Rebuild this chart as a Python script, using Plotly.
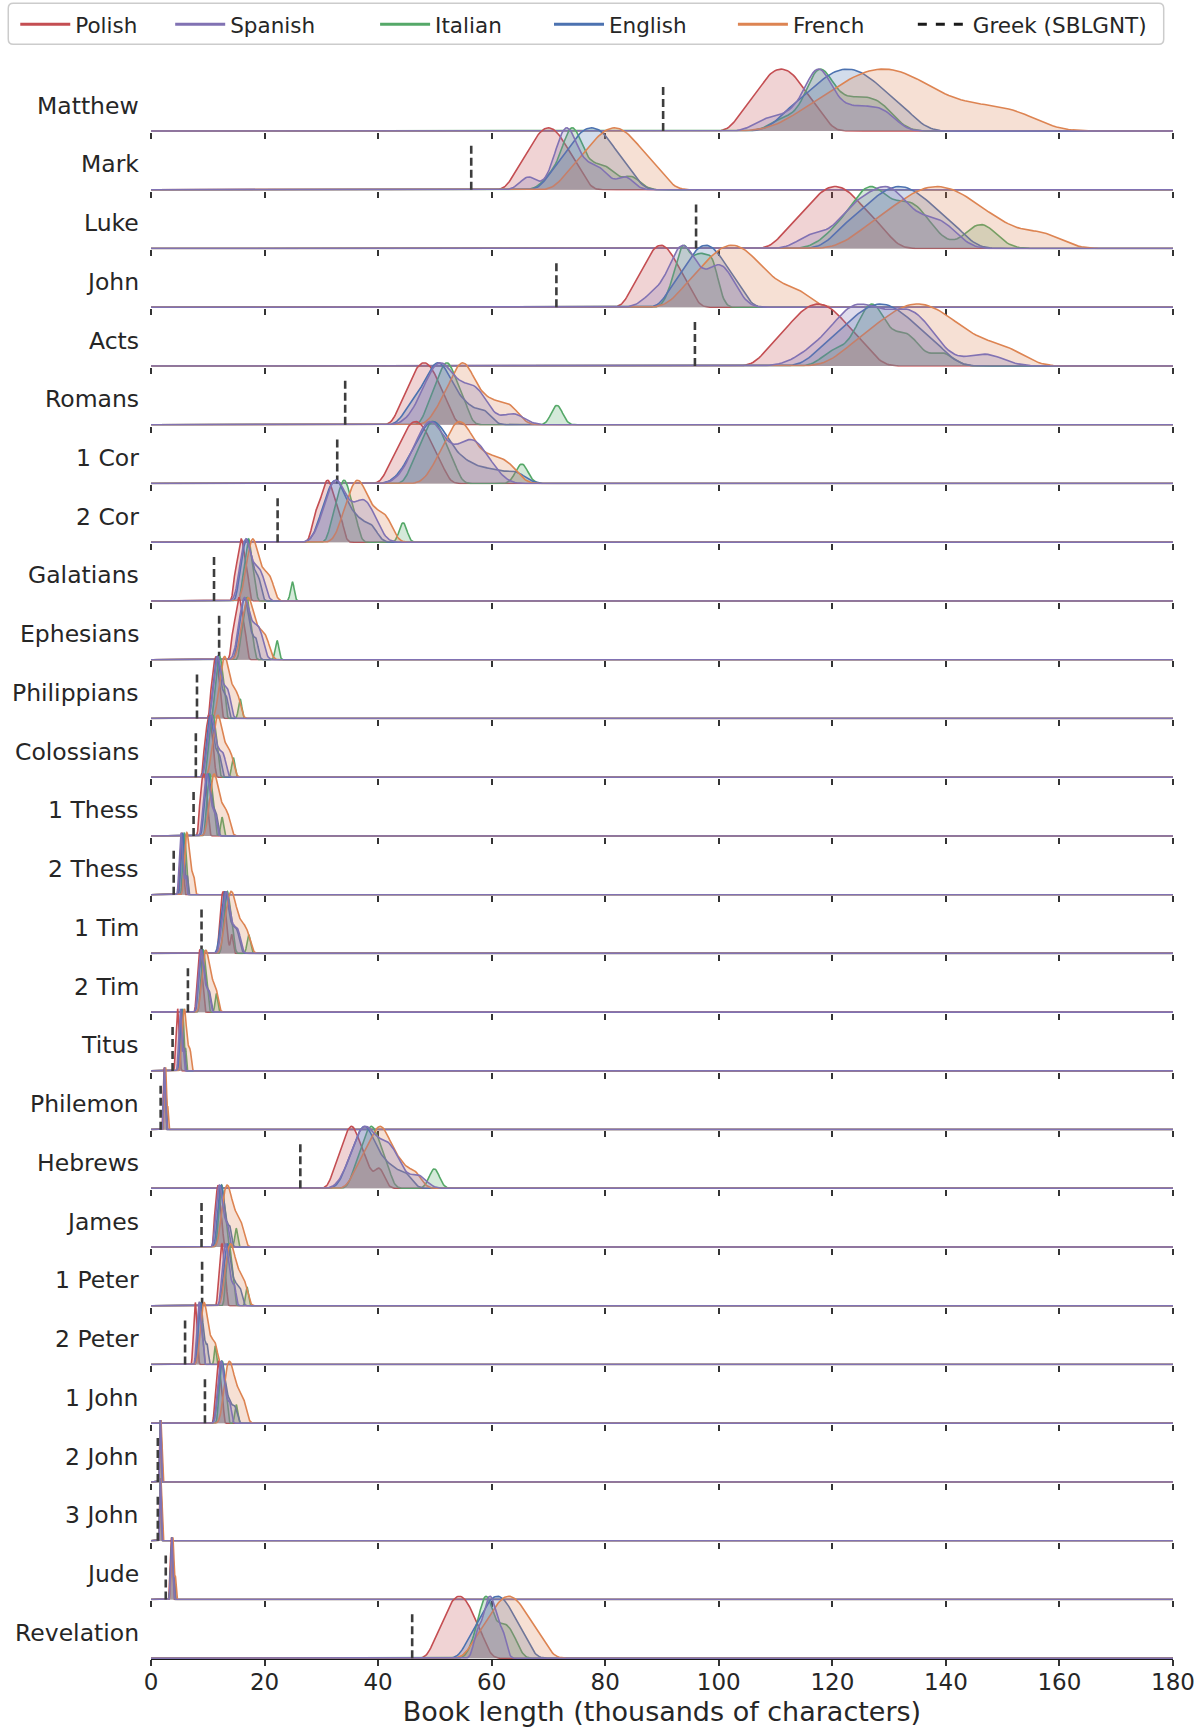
import numpy as np
import plotly.graph_objects as go

# ---------------- data ----------------
BOOKS = ["Matthew", "Mark", "Luke", "John", "Acts", "Romans", "1 Cor", "2 Cor",
         "Galatians", "Ephesians", "Philippians", "Colossians", "1 Thess", "2 Thess",
         "1 Tim", "2 Tim", "Titus", "Philemon", "Hebrews", "James", "1 Peter",
         "2 Peter", "1 John", "2 John", "3 John", "Jude", "Revelation"]

# Greek (SBLGNT) book length, thousands of characters
GREEK = [90.2, 56.4, 96.0, 71.4, 95.8, 34.2, 32.8, 22.3, 11.1, 12.0, 8.1, 7.9, 7.5,
         4.0, 8.9, 6.5, 3.8, 1.7, 26.3, 8.9, 9.0, 6.0, 9.5, 1.2, 1.2, 2.6, 46.0]

LANGUAGES = ["Polish", "Spanish", "Italian", "English", "French"]
TICKS = [0, 20, 40, 60, 80, 100, 120, 140, 160, 180]

# lengths of individual translations (thousands of characters), one list per book
POLISH = [
    [104.5, 106.6, 108, 109.1, 110, 111, 112, 112.9, 114, 115.4, 117.5],
    [64.7, 66.4, 67.5, 68.45, 69.2, 70, 70.8, 71.55, 72.5, 73.6, 75.3],
    [112.5, 115.1, 116.8, 118.2, 119.3, 120.5, 121.7, 122.8, 124.2, 125.9, 128.5],
    [85, 86.6, 87.55, 88.4, 89.1, 89.8, 90.5, 91.2, 92.05, 93, 94.6],
    [109.5, 112.1, 113.75, 115.15, 116.3, 117.5, 118.7, 119.85, 121.25, 122.9, 125.5],
    [44.1, 45.4, 46.2, 46.9, 47.5, 48.1, 48.7, 49.3, 50, 50.8, 52.1],
    [42.3, 43.7, 44.6, 45.3, 46, 46.6, 47.2, 47.9, 48.6, 49.5, 50.9],
    [28.9, 29.9, 30.6, 31.1, 31.6, 32.3, 33.3],
    [14.8, 15.3, 15.65, 15.9, 16.15, 16.5, 17],
    [14.4, 14.9, 15.25, 15.5, 15.75, 16.1, 16.6],
    [10.6, 10.95, 11.2, 11.4, 11.6, 11.85, 12.2],
    [9.4, 9.75, 10, 10.2, 10.4, 10.65, 11],
    [8.6, 8.9, 9.1, 9.3, 9.5, 9.7, 10],
    [5, 5.2, 5.32, 5.4, 5.48, 5.6, 5.8],
    [12.1, 12.35, 12.55, 12.7, 12.85, 13.05, 13.4, 14.2],
    [8.05, 8.3, 8.47, 8.6, 8.73, 8.9, 9.2],
    [4.3, 4.5, 4.62, 4.7, 4.78, 4.9, 5.1],
    [2.1, 2.2, 2.27, 2.32, 2.37, 2.44, 2.55],
    [32.7, 33.9, 34.7, 35.3, 35.9, 36.7, 37.9, 40.2],
    [11.2, 11.45, 11.65, 11.8, 11.95, 12.15, 12.5],
    [11.9, 12.15, 12.35, 12.5, 12.65, 12.85, 13.2],
    [7.4, 7.58, 7.7, 7.8, 7.9, 8.02, 8.25],
    [11.3, 11.55, 11.75, 11.9, 12.05, 12.25, 12.6],
    [1.48, 1.55, 1.6, 1.64, 1.68, 1.73, 1.8],
    [1.48, 1.55, 1.6, 1.64, 1.68, 1.73, 1.8],
    [3.3, 3.42, 3.52, 3.58, 3.64, 3.72, 3.85],
    [50.3, 51.6, 52.4, 53.1, 53.7, 54.3, 54.9, 55.5, 56.2, 57, 58.3],
]

SPANISH = [
    [108, 111.5, 114, 116, 116.8, 117.3, 117.6, 118, 118.6, 120, 122, 124, 126, 128, 130],
    [66.5, 71, 72.2, 72.8, 73.3, 73.8, 74.4, 76, 77.8, 79.6, 83.5],
    [116.5, 121.5, 123.5, 125, 126.5, 128, 129.3, 130.3, 131.3, 132.8, 135.5, 138, 140.5],
    [88.5, 91.5, 92.5, 93.2, 93.8, 94.4, 95.2, 97, 99.2, 100, 100.8, 102.5],
    [116.5, 120.5, 122.3, 123.5, 124.5, 125.7, 127.5, 129.5, 131.5, 133, 134.2, 135.5, 137.5, 146.8],
    [47.3, 48.8, 49.8, 50.5, 51, 51.5, 52.3, 53.6, 55, 56.5, 57.4, 58.4, 63.8],
    [45.6, 47.2, 48.2, 48.8, 49.3, 49.8, 50.6, 52, 53.6, 55.2, 56.2, 57, 58, 60],
    [30.3, 31.4, 32.1, 32.6, 33.1, 33.8, 35, 36.5, 37.3, 38.1, 39.5],
    [15.6, 16.1, 16.45, 16.7, 16.95, 17.3, 17.9, 18.5, 19.1, 19.8],
    [15.4, 15.9, 16.25, 16.5, 16.75, 17.1, 17.7, 18.3, 18.9, 19.5],
    [11, 11.35, 11.6, 11.8, 12, 12.3, 12.8, 13.3, 13.8],
    [9.9, 10.25, 10.5, 10.7, 10.9, 11.2, 11.7, 12.3, 12.9],
    [9.2, 9.5, 9.7, 9.9, 10.1, 10.35, 10.8, 11.3],
    [4.9, 5.1, 5.22, 5.3, 5.38, 5.5, 5.75, 6.1],
    [12.5, 12.85, 13.1, 13.3, 13.5, 13.8, 14.3, 14.9, 15.5],
    [8.3, 8.55, 8.75, 8.9, 9.05, 9.3, 9.7, 10.2],
    [4.8, 5, 5.12, 5.2, 5.28, 5.42, 5.7],
    [2.15, 2.25, 2.33, 2.38, 2.43, 2.5, 2.62],
    [34.8, 36.1, 36.9, 37.5, 38, 38.6, 39.6, 40.8, 41.6, 42.4, 43.6, 47],
    [11.4, 11.7, 11.9, 12.1, 12.3, 12.55, 13, 13.5],
    [12.5, 12.8, 13, 13.2, 13.4, 13.65, 14.1, 14.7],
    [8, 8.2, 8.37, 8.5, 8.63, 8.82, 9.15],
    [11.7, 12, 12.2, 12.4, 12.6, 12.85, 13.3, 13.9],
    [1.52, 1.59, 1.64, 1.68, 1.72, 1.78, 1.88],
    [1.52, 1.59, 1.64, 1.68, 1.72, 1.78, 1.88],
    [3.4, 3.52, 3.62, 3.68, 3.74, 3.82, 3.98],
    [57.4, 58.5, 59.2, 59.7, 60.2, 60.9, 62],
]

ITALIAN = [
    [111.5, 116.8, 117.3, 117.6, 118, 118.4, 121.5, 123.5, 125.5, 127.5, 129.5],
    [70.5, 73.2, 73.7, 74.1, 74.5, 75, 77, 79, 80.8, 84.6],
    [120.5, 123.5, 125.3, 126.3, 127, 127.8, 129.5, 132.5, 133.5, 134.5, 137, 145.5, 146.8],
    [91.8, 93.2, 93.6, 94, 94.4, 96, 96.5, 96.9, 98.3, 98.8, 99.2],
    [120, 123.5, 125.6, 126.4, 127, 127.6, 128.4, 131, 133, 134.2, 139.3],
    [49.2, 50.55, 51.45, 52.1, 52.75, 53.65, 55, 71.5],
    [46.5, 48, 48.95, 49.7, 50.45, 51.4, 52.9, 65.3],
    [32.05, 32.95, 33.55, 34, 34.45, 35.05, 35.95, 44.4],
    [16.2, 16.7, 17, 17.2, 17.4, 17.7, 18.2, 24.9],
    [15.9, 16.4, 16.7, 16.9, 17.1, 17.4, 17.9, 22.2],
    [11.3, 11.65, 11.9, 12.1, 12.3, 12.55, 12.9, 15.7],
    [10.1, 10.45, 10.7, 10.9, 11.1, 11.35, 11.7, 14.5],
    [9.8, 10.05, 10.25, 10.4, 10.55, 10.8, 11.1, 12.5],
    [5.5, 5.7, 5.82, 5.9, 5.98, 6.1, 6.3],
    [12.8, 13.1, 13.3, 13.5, 13.7, 13.95, 14.4, 17.2],
    [8.75, 9, 9.17, 9.3, 9.43, 9.65, 9.95, 11.5],
    [5.2, 5.4, 5.52, 5.6, 5.68, 5.82, 6.1],
    [2.2, 2.3, 2.38, 2.43, 2.48, 2.55, 2.65],
    [36.2, 37.4, 38.2, 38.8, 39.4, 40.2, 41.4, 49.9],
    [11.9, 12.15, 12.35, 12.5, 12.65, 12.9, 13.2, 15],
    [13.2, 13.45, 13.65, 13.8, 13.95, 14.2, 14.5, 16.9],
    [8.15, 8.35, 8.5, 8.6, 8.7, 8.88, 9.1, 11.3],
    [12, 12.25, 12.45, 12.6, 12.75, 13, 13.3, 15],
    [1.52, 1.59, 1.64, 1.68, 1.72, 1.78, 1.86],
    [1.52, 1.59, 1.64, 1.68, 1.72, 1.78, 1.86],
    [3.42, 3.54, 3.63, 3.7, 3.77, 3.86, 4],
    [57, 58.2, 58.7, 59, 59.3, 59.8, 61, 62, 62.8, 64],
]

ENGLISH = [
    [112.6, 115.8, 117.9, 119.7, 121.1, 122.6, 124.1, 125.6, 127.3, 129.4, 132.6],
    [71.1, 73.2, 74.6, 75.7, 76.6, 77.6, 78.6, 79.5, 80.6, 82, 84.1],
    [122.1, 125.2, 127.2, 128.95, 130.4, 131.8, 133.2, 134.65, 136.4, 138.4, 141.5],
    [91.9, 93.8, 95, 96, 96.85, 97.7, 98.55, 99.4, 100.4, 101.6, 103.5],
    [118.8, 121.9, 123.9, 125.65, 127.1, 128.5, 129.9, 131.35, 133.1, 135.1, 138.2],
    [45.5, 47.3, 48.4, 49.3, 50, 50.6, 51.2, 51.9, 52.8, 54, 55.8, 58.5],
    [45.2, 46.9, 48, 48.8, 49.4, 50, 50.7, 51.6, 52.8, 54.5, 56.8, 60, 64],
    [29.9, 31, 31.7, 32.3, 32.8, 33.4, 34.2, 35.3, 36.8, 38.8],
    [15.7, 16.2, 16.6, 16.9, 17.2, 17.6, 18.2, 19],
    [15.4, 15.9, 16.25, 16.5, 16.75, 17.1, 17.7, 18.5],
    [10.9, 11.25, 11.5, 11.7, 11.9, 12.2, 12.7, 13.3],
    [9.7, 10.05, 10.3, 10.5, 10.7, 11, 11.5, 12.1],
    [9.4, 9.7, 9.9, 10.1, 10.3, 10.55, 11, 11.5],
    [5.2, 5.4, 5.52, 5.6, 5.68, 5.8, 6.05, 6.4],
    [12.3, 12.65, 12.9, 13.1, 13.3, 13.6, 14.1, 14.7, 15.3],
    [8.4, 8.65, 8.85, 9, 9.15, 9.4, 9.8, 10.3],
    [5, 5.2, 5.32, 5.4, 5.48, 5.62, 5.9],
    [2.2, 2.3, 2.38, 2.43, 2.48, 2.56, 2.7],
    [34.6, 35.8, 36.6, 37.2, 37.7, 38.2, 38.9, 39.8, 41, 42.6, 44.8],
    [11.7, 12, 12.2, 12.4, 12.6, 12.85, 13.3, 13.9],
    [12.8, 13.1, 13.3, 13.5, 13.7, 13.95, 14.4, 15, 15.7],
    [8.3, 8.5, 8.67, 8.8, 8.93, 9.12, 9.45, 9.9],
    [11.8, 12.1, 12.3, 12.5, 12.7, 12.95, 13.4, 14, 14.8],
    [1.52, 1.6, 1.65, 1.69, 1.74, 1.8, 1.92],
    [1.52, 1.6, 1.65, 1.69, 1.74, 1.8, 1.92],
    [3.42, 3.55, 3.65, 3.72, 3.79, 3.9, 4.1],
    [56.2, 57.8, 58.75, 59.6, 60.3, 61, 61.7, 62.4, 63.25, 64.2, 65.8],
]

FRENCH = [
    [115.4, 119.8, 122.6, 125, 127, 129, 131, 133, 135.4, 138.2, 142.6, 147.5, 153],
    [74.1, 76.5, 78.1, 79.4, 80.5, 81.6, 82.7, 83.8, 85.1, 86.7, 89.1],
    [126.3, 130.2, 132.7, 134.85, 136.6, 138.4, 140.2, 141.95, 144.1, 146.6, 150.5, 157],
    [94.3, 96.9, 98.55, 99.95, 101.1, 102.3, 103.5, 104.65, 106.05, 107.7, 110.3, 114],
    [123.8, 127.4, 129.7, 131.7, 133.35, 135, 136.65, 138.3, 140.3, 142.6, 146.2, 151],
    [50.8, 52.3, 53.3, 54.1, 54.6, 55.1, 55.6, 56.3, 57.3, 58.6, 60.2, 62, 63.8],
    [50.2, 51.7, 52.7, 53.5, 54.1, 54.6, 55.2, 56, 57, 58.4, 60, 61.6, 63.5],
    [33.8, 34.9, 35.6, 36.2, 36.7, 37.3, 38.1, 39.2, 40.5, 41.8],
    [16.7, 17.3, 17.7, 18, 18.3, 18.8, 19.5, 20.3, 21.2],
    [15.9, 16.5, 16.9, 17.2, 17.5, 18, 18.7, 19.5, 20.4],
    [12, 12.4, 12.75, 13, 13.25, 13.6, 14.1, 14.7, 15.4],
    [10.8, 11.2, 11.55, 11.8, 12.05, 12.4, 12.9, 13.5, 14.2],
    [10.3, 10.65, 10.95, 11.2, 11.45, 11.8, 12.3, 12.9, 13.6],
    [5.9, 6.1, 6.25, 6.4, 6.55, 6.75, 7.05, 7.5],
    [13.1, 13.5, 13.9, 14.2, 14.5, 14.9, 15.5, 16.2, 17],
    [9, 9.3, 9.55, 9.8, 10.05, 10.4, 10.9, 11.5],
    [5.4, 5.6, 5.77, 5.9, 6.03, 6.2, 6.5, 6.9],
    [2.3, 2.42, 2.52, 2.58, 2.65, 2.75, 2.95],
    [36.3, 37.7, 38.7, 39.5, 40.1, 40.6, 41.2, 42, 43, 44.4, 46.5],
    [12.5, 12.9, 13.2, 13.5, 13.8, 14.15, 14.7, 15.3, 16],
    [13.1, 13.5, 13.8, 14.1, 14.4, 14.75, 15.3, 15.9, 16.6],
    [8.7, 8.95, 9.2, 9.4, 9.6, 9.85, 10.25, 10.8, 11.4],
    [12.9, 13.3, 13.6, 13.9, 14.2, 14.55, 15.1, 15.7, 16.4],
    [1.56, 1.64, 1.7, 1.75, 1.8, 1.87, 1.98],
    [1.56, 1.64, 1.7, 1.75, 1.8, 1.87, 1.98],
    [3.5, 3.65, 3.77, 3.85, 3.93, 4.05, 4.3],
    [57.4, 59.2, 60.4, 61.35, 62.2, 63, 63.8, 64.65, 65.6, 66.8, 68.6],
]

# ---------------- styling ----------------
SAMPLES = {"Polish": POLISH, "Spanish": SPANISH, "Italian": ITALIAN,
           "English": ENGLISH, "French": FRENCH}
COLORS = {"Polish": "#C44E52", "Spanish": "#8172B3", "Italian": "#55A868",
          "English": "#4C72B0", "French": "#DD8452"}
DRAW_ORDER = ["Polish", "Italian", "English", "French", "Spanish"]
FONT = "DejaVu Sans"
TEXT = "#262626"

W, H = 1201, 1731
X0_PX, X1_PX = 150.8, 1173.3          # pixel of x=0 and x=180
BASE0_PX, STEP_PX, UNIT_PX = 130.9, 58.74, 62.0
YLO, YHI = -0.012, 1.05
GREEK_TOP = 0.71
BW_ADJUST = 0.8
N = len(BOOKS)

mt = BASE0_PX - YHI * UNIT_PX
mb = H - (BASE0_PX + (N - 1) * STEP_PX - YLO * UNIT_PX)
ml, mr = X0_PX, W - X1_PX
PH, PW = H - mt - mb, W - ml - mr


def py2paper(py):
    return (H - mb - py) / PH


def px2paper(px):
    return (px - ml) / PW


def rgba(hexc, a):
    h = hexc.lstrip("#")
    return "rgba(%d,%d,%d,%.2f)" % (int(h[0:2], 16), int(h[2:4], 16), int(h[4:6], 16), a)


def silverman(s):
    sd = s.std(ddof=1)
    q75, q25 = np.percentile(s, [75, 25])
    spread = min(sd, (q75 - q25) / 1.34) if q75 > q25 else sd
    return BW_ADJUST * 0.9 * spread * len(s) ** -0.2


def kde_curve(samples):
    s = np.asarray(samples, float)
    bw = silverman(s)
    lo = max(0.0, s.min() - 5 * bw)
    hi = min(180.0, s.max() + 5 * bw)
    m = int(np.ceil((hi - lo) / (bw / 6))) + 1
    grid = np.linspace(lo, hi, m)
    dens = np.exp(-0.5 * ((grid[:, None] - s[None, :]) / bw) ** 2).sum(axis=1)
    dens = dens / dens.max()
    xs = np.concatenate([[0.0], grid, [180.0]])
    ys = np.concatenate([[0.0], dens, [0.0]])
    return np.round(xs, 4), np.round(ys, 4)


fig = go.Figure()
axes = {}
annotations = []

for i, book in enumerate(BOOKS):
    k = "" if i == 0 else str(i + 1)
    base = BASE0_PX + i * STEP_PX
    for lang in DRAW_ORDER:
        xs, ys = kde_curve(SAMPLES[lang][i])
        fig.add_trace(go.Scatter(
            x=xs, y=ys, mode="lines",
            line=dict(color=COLORS[lang], width=1.6),
            fill="tozeroy", fillcolor=rgba(COLORS[lang], 0.25),
            xaxis="x" + k, yaxis="y" + k, showlegend=False, hoverinfo="skip"))
    fig.add_trace(go.Scatter(
        x=[GREEK[i], GREEK[i]], y=[0, GREEK_TOP], mode="lines",
        line=dict(color="#3d3d3d", width=2.6, dash="8px,4px"),
        xaxis="x" + k, yaxis="y" + k, showlegend=False, hoverinfo="skip"))

    last = i == N - 1
    xa = dict(domain=[0, 1], range=[0, 180], anchor="y" + k,
              tickmode="array", tickvals=TICKS, ticks="outside", ticklen=6,
              tickwidth=1.8, tickcolor="#333333", showticklabels=last,
              showgrid=False, zeroline=False, showline=last,
              linecolor="#1a1a1a", linewidth=1.4, fixedrange=True)
    if last:
        xa["tickfont"] = dict(family=FONT, size=23, color=TEXT)
        xa["ticklabelstandoff"] = -4
        xa["title"] = dict(text="Book length (thousands of characters)", standoff=8,
                           font=dict(family=FONT, size=27, color=TEXT))
    else:
        xa["matches"] = "x" + str(N)
    d0 = py2paper(base - YLO * UNIT_PX)
    d1 = py2paper(base - YHI * UNIT_PX)
    ya = dict(domain=[max(0.0, d0), min(1.0, d1)], range=[YLO, YHI],
              visible=False, fixedrange=True)
    axes["xaxis" + k] = xa
    axes["yaxis" + k] = ya
    annotations.append(dict(
        text=book, xref="paper", yref="paper", x=px2paper(140.8),
        y=py2paper(base - 25.5), xanchor="right", yanchor="middle",
        showarrow=False, font=dict(family=FONT, size=23.5, color=TEXT)))

# legend entries (one legend per entry to reproduce the spread-out layout)
LEGEND_PX = [17, 172, 377, 551, 735, 915]
legend_layout = {}
entries = [(l, COLORS[l], "solid") for l in LANGUAGES] + [("Greek (SBLGNT)", "#1a1a1a", "dash")]
for j, (name, col, dash) in enumerate(entries):
    lid = "legend" if j == 0 else "legend%d" % (j + 1)
    fig.add_trace(go.Scatter(
        x=[None], y=[None], mode="lines", name=name,
        line=dict(color=col, width=3, dash=dash), legend=lid, showlegend=True,
        hoverinfo="skip"))
    legend_layout[lid] = dict(
        x=px2paper(LEGEND_PX[j] - 2), xanchor="left", y=py2paper(24), yanchor="middle",
        orientation="h", bgcolor="rgba(0,0,0,0)", borderwidth=0, itemwidth=50,
        font=dict(family=FONT, size=21.5, color=TEXT))

# legend frame with rounded corners
fx0, fx1 = px2paper(8), px2paper(1164)
fyt, fyb = py2paper(3), py2paper(44)
rx, ry = 5 / PW, 5 / PH
frame = ("M {a},{t} L {b},{t} Q {x1},{t} {x1},{t2} L {x1},{b2} Q {x1},{yb} {b},{yb} "
         "L {a},{yb} Q {x0},{yb} {x0},{b2} L {x0},{t2} Q {x0},{t} {a},{t} Z").format(
    a=fx0 + rx, b=fx1 - rx, t=fyt, t2=fyt - ry, b2=fyb + ry, yb=fyb, x0=fx0, x1=fx1)

fig.update_layout(
    width=W, height=H, autosize=False,
    margin=dict(l=ml, r=mr, t=mt, b=mb, pad=0, autoexpand=False),
    paper_bgcolor="white", plot_bgcolor="rgba(0,0,0,0)",
    font=dict(family=FONT, color=TEXT),
    hovermode=False, annotations=annotations,
    shapes=[dict(type="path", path=frame, xref="paper", yref="paper",
                 line=dict(color="#cccccc", width=1.5), fillcolor="rgba(255,255,255,0.85)",
                 layer="above")],
    template="none",
    **axes, **legend_layout)

fig.write_html("out.html", config={"displayModeBar": False},
               post_script="document.body.style.margin='0px';")
